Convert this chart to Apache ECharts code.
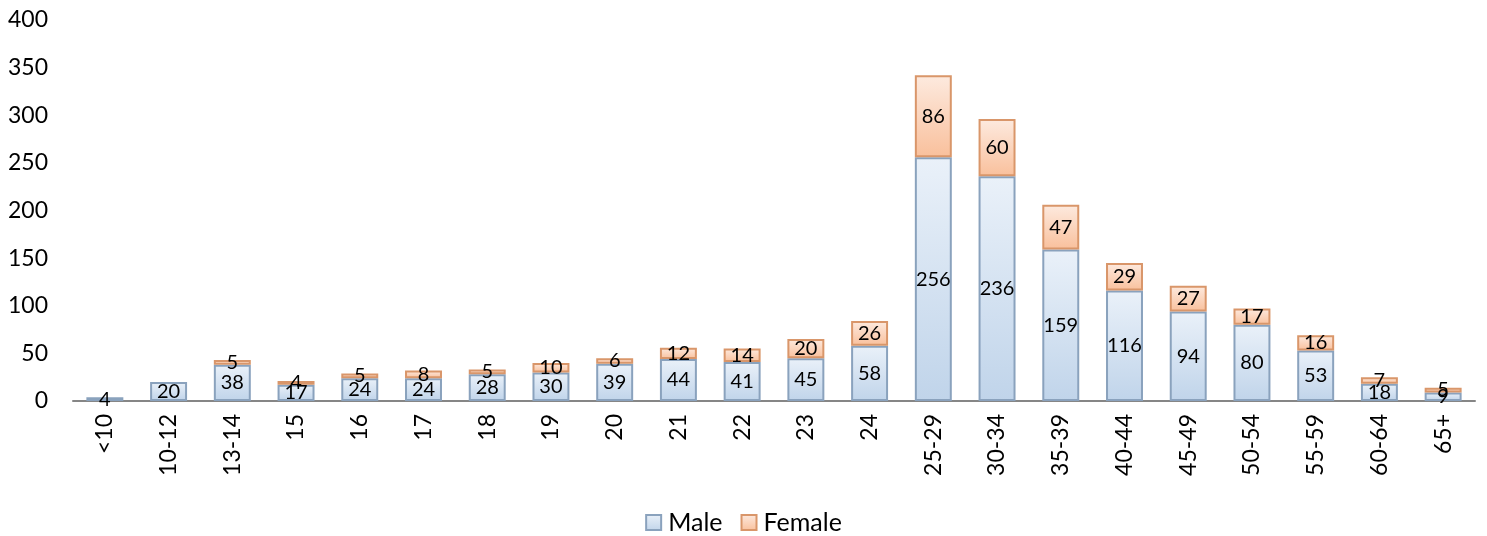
<!DOCTYPE html>
<html><head><meta charset="utf-8">
<script src="https://cdn.jsdelivr.net/npm/echarts@6/dist/echarts.min.js"></script>
<style>html,body{margin:0;padding:0;background:#fff}#c{width:1487px;height:536px}</style>
</head><body><div id="c"></div>
<script>
const categories = ['<10','10-12','13-14','15','16','17','18','19','20','21','22','23','24','25-29','30-34','35-39','40-44','45-49','50-54','55-59','60-64','65+'];
const male = [4,20,38,17,24,24,28,30,39,44,41,45,58,256,236,159,116,94,80,53,18,9];
const female = [0,0,5,4,5,8,5,10,6,12,14,20,26,86,60,47,29,27,17,16,7,5];
const yTicks = [0,50,100,150,200,250,300,350,400];

const FONT = 'Lato';
const chart = echarts.init(document.getElementById('c'));
const maleFill = new echarts.graphic.LinearGradient(0,0,0,1,[{offset:0,color:'#eaf1f9'},{offset:1,color:'#c0d4ea'}]);
const femaleFill = new echarts.graphic.LinearGradient(0,0,0,1,[{offset:0,color:'#fdeadf'},{offset:1,color:'#f9c09c'}]);
const lbl = {show:true, position:'inside', color:'#000', fontFamily:FONT, fontSize:20,
  formatter: p => p.value > 0 ? p.value : ''};
const toData = arr => arr.map(v => v > 0 ? v : '-');
chart.setOption({
  animation:false,
  textStyle:{fontFamily:FONT},
  grid:{left:73, right:12, top:20, bottom:135, containLabel:false},
  legend:{top:505, left:'center', itemWidth:15, itemHeight:15, itemGap:18, icon:'rect',
    textStyle:{fontFamily:FONT, fontSize:25, color:'#000', padding:[0,0,0,2]},
    data:['Male','Female']},
  xAxis:{type:'category', data:categories,
    axisLine:{lineStyle:{color:'#868686', width:2}},
    axisTick:{show:false},
    axisLabel:{rotate:90, color:'#000', fontFamily:FONT, fontSize:23, margin:13, interval:0}},
  yAxis:{type:'value', min:yTicks[0], max:yTicks[yTicks.length-1], interval:50,
    axisLine:{show:false}, axisTick:{show:false}, splitLine:{show:false},
    axisLabel:{color:'#000', fontFamily:FONT, fontSize:23, margin:25}},
  series:[
    {name:'Male', type:'bar', stack:'a', data:toData(male), barWidth:'58%',
      itemStyle:{color:maleFill, borderColor:'#8aa2bd', borderWidth:2}, label:lbl},
    {name:'Female', type:'bar', stack:'a', data:toData(female), barWidth:'58%',
      itemStyle:{color:femaleFill, borderColor:'#d9966a', borderWidth:2}, label:lbl}
  ]
});
</script></body></html>
